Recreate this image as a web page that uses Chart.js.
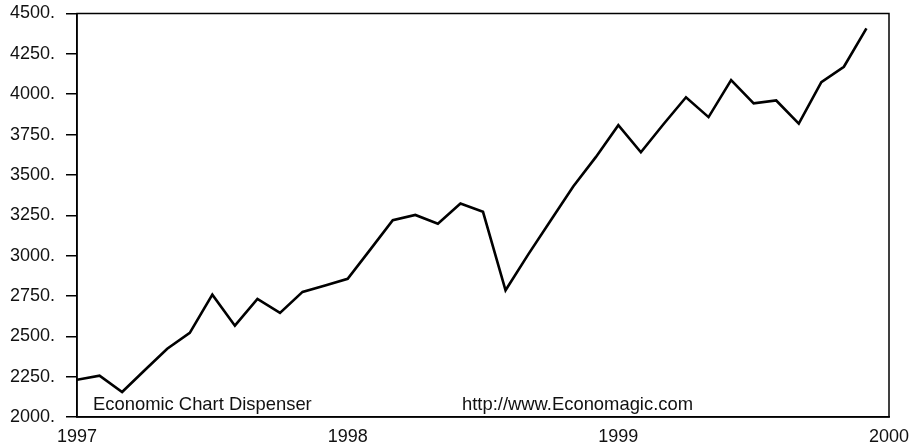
<!DOCTYPE html>
<html>
<head>
<meta charset="utf-8">
<script src="https://cdn.jsdelivr.net/npm/chart.js@4/dist/chart.umd.min.js"></script>
<style>
  html, body { margin: 0; padding: 0; background: #fff; }
  #wrap { width: 915px; height: 447px; position: relative; }
</style>
</head>
<body>
<div id="wrap"><canvas id="chart"></canvas></div>
<script>
// monthly observations, Jan 1997 .. Dec 1999
const months = [
  "1997-01", "1997-02", "1997-03", "1997-04", "1997-05", "1997-06",
  "1997-07", "1997-08", "1997-09", "1997-10", "1997-11", "1997-12",
  "1998-01", "1998-02", "1998-03", "1998-04", "1998-05", "1998-06",
  "1998-07", "1998-08", "1998-09", "1998-10", "1998-11", "1998-12",
  "1999-01", "1999-02", "1999-03", "1999-04", "1999-05", "1999-06",
  "1999-07", "1999-08", "1999-09", "1999-10", "1999-11", "1999-12",
];
const values = [
  2231, 2256, 2155, 2290, 2423, 2521, 2758, 2566, 2732, 2645, 2775, 2815,
  2856, 3037, 3219, 3252, 3198, 3323, 3271, 2785, 3006, 3217, 3428, 3610,
  3808, 3640, 3814, 3981, 3858, 4087, 3943, 3961, 3818, 4075, 4170, 4408,
];
const yearTicks = [1997, 1998, 1999, 2000];
const valueTicks = [2000, 2250, 2500, 2750, 3000, 3250, 3500, 3750, 4000, 4250, 4500];
const notes = ["Economic Chart Dispenser", "http://www.Economagic.com"];

const FONT = "'Liberation Sans', Arial, Helvetica, sans-serif";

function toYear(s) {
  const [y, m] = s.split("-").map(Number);
  return y + (m - 1) / 12;
}

const points = months.map((m, i) => ({ x: toYear(m), y: values[i] }));

// box round the plot + the two credit lines
const framePlugin = {
  id: "frame",
  afterDraw(chart) {
    const { ctx, chartArea: a } = chart;
    ctx.save();
    ctx.strokeStyle = "#000";
    ctx.lineWidth = 1.5;
    ctx.strokeRect(a.left, a.top, a.right - a.left, a.bottom - a.top);
    ctx.fillStyle = "#111";
    ctx.font = "18.4px " + FONT;
    ctx.textBaseline = "alphabetic";
    ctx.textAlign = "left";
    ctx.fillText(notes[0], a.left + 16, a.bottom - 7);
    ctx.fillText(notes[1], a.left + 385, a.bottom - 7);
    ctx.restore();
  },
};

new Chart(document.getElementById("chart"), {
  type: "line",
  data: {
    datasets: [{
      data: points,
      borderColor: "#000",
      borderWidth: 2.6,
      borderJoinStyle: "miter",
      pointRadius: 0,
      tension: 0,
      fill: false,
    }],
  },
  options: {
    responsive: true,
    maintainAspectRatio: false,
    animation: false,
    layout: { padding: { top: 13.5, right: 26, bottom: 0, left: 0 } },
    plugins: { legend: { display: false }, tooltip: { enabled: false } },
    scales: {
      x: {
        type: "linear",
        min: yearTicks[0],
        max: yearTicks[yearTicks.length - 1],
        afterBuildTicks(scale) {
          scale.ticks = yearTicks.map(v => ({ value: v }));
        },
        afterFit(scale) {
          scale.height = 30;
          scale.paddingLeft = 0;
          scale.paddingRight = 0;
        },
        grid: { display: true, drawOnChartArea: false, drawTicks: false },
        border: { display: true, color: "#000", width: 1.5 },
        ticks: {
          color: "#111",
          font: { family: FONT, size: 18 },
          padding: 9,
          maxRotation: 0,
          autoSkip: false,
          callback: v => String(v),
        },
      },
      y: {
        min: valueTicks[0],
        max: valueTicks[valueTicks.length - 1],
        afterBuildTicks(scale) {
          scale.ticks = valueTicks.map(v => ({ value: v }));
        },
        afterFit(scale) {
          scale.width = 77;
          scale.paddingTop = 0;
          scale.paddingBottom = 0;
        },
        grid: {
          display: true,
          drawOnChartArea: false,
          drawTicks: true,
          tickLength: 11,
          color: "#000",
          lineWidth: 1.5,
        },
        border: { display: true, color: "#000", width: 1.5 },
        ticks: {
          color: "#111",
          font: { family: FONT, size: 18 },
          padding: 11,
          autoSkip: false,
          callback: v => v + ".",
        },
      },
    },
  },
  plugins: [framePlugin],
});
</script>
</body>
</html>
